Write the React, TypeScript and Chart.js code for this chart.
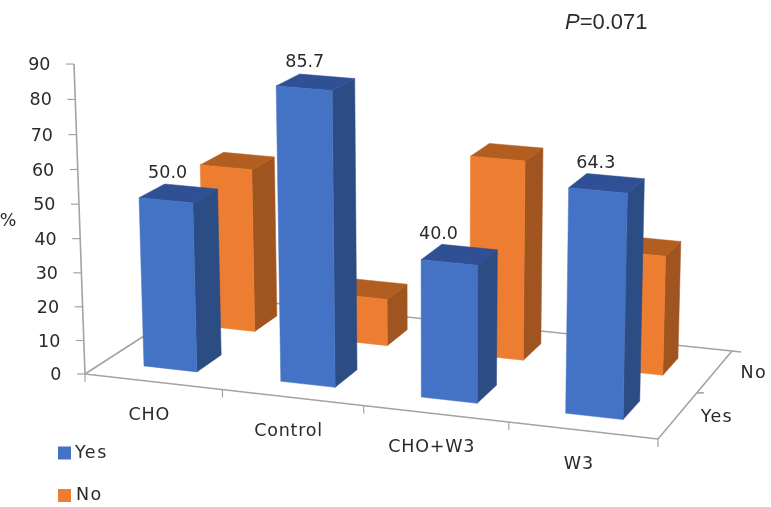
import React, { useEffect, useRef } from "react";
import { Chart, registerables } from "chart.js";

Chart.register(...registerables);

const categories = ["CHO", "Control", "CHO+W3", "W3"];
const yesValues = [50.0, 85.7, 40.0, 64.3];
const noValues = [50.0, 14.3, 60.0, 35.7];
const seriesNames = ["Yes", "No"];
const yesColors = { front: "#4472C4", side: "#2C4C84", top: "#2F5095" };
const noColors = { front: "#ED7D31", side: "#A0541F", top: "#B25E20" };

const FONT = "'DejaVu Sans', sans-serif";
const TEXT = "#2a2a2a";
const AXIS = "#a3a3a3";

// floor corners on screen: front-left, front-right, back-right, back-left
const FL = [85, 374], FR = [658, 439], BR = [732, 351], BL = [206, 296];
const VP = [435, 10240];
const TOP_T = -0.03046;

function makeProjection() {
  const dx1 = FR[0] - BR[0], dx2 = BL[0] - BR[0], sx = FL[0] - FR[0] + BR[0] - BL[0];
  const dy1 = FR[1] - BR[1], dy2 = BL[1] - BR[1], sy = FL[1] - FR[1] + BR[1] - BL[1];
  const d = dx1 * dy2 - dx2 * dy1;
  const g = (sx * dy2 - dx2 * sy) / d;
  const h = (dx1 * sy - sx * dy1) / d;
  const a = FR[0] - FL[0] + g * FR[0], b = BL[0] - FL[0] + h * BL[0], c = FL[0];
  const e = FR[1] - FL[1] + g * FR[1], f2 = BL[1] - FL[1] + h * BL[1], k = FL[1];
  return (u: number, w: number, f: number): [number, number] => {
    const t = TOP_T * f;
    const W = g * u + h * w + 1 + t;
    return [(a * u + b * w + c + t * VP[0]) / W, (e * u + f2 * w + k + t * VP[1]) / W];
  };
}
const project = makeProjection();

function poly(ctx: CanvasRenderingContext2D, pts: [number, number][], color: string) {
  ctx.beginPath();
  pts.forEach((p, i) => (i ? ctx.lineTo(p[0], p[1]) : ctx.moveTo(p[0], p[1])));
  ctx.closePath();
  ctx.fillStyle = color;
  ctx.fill();
  ctx.strokeStyle = color;
  ctx.lineWidth = 0.5;
  ctx.stroke();
}

function line(ctx: CanvasRenderingContext2D, a: number[], b: number[]) {
  ctx.beginPath();
  ctx.moveTo(a[0], a[1]);
  ctx.lineTo(b[0], b[1]);
  ctx.stroke();
}

function text(ctx: CanvasRenderingContext2D, s: string, x: number, y: number, align: CanvasTextAlign = "center", spacing = "0px") {
  ctx.fillStyle = TEXT;
  ctx.textAlign = align;
  ctx.textBaseline = "middle";
  (ctx as any).letterSpacing = spacing;
  ctx.fillText(s, x, y);
  (ctx as any).letterSpacing = "0px";
}

const DEPTH_HALF = 0.102;
const U_SHIFT = 0.0026;
const labelNudge = [0, 0, -10, 0];

const bars3d = {
  id: "bars3d",
  beforeDatasetsDraw(chart: any) {
    const ctx = chart.ctx;
    ctx.save();
    ctx.strokeStyle = AXIS;
    ctx.lineWidth = 1.6;
    const y = chart.scales.y, x = chart.scales.x;
    const area = chart.chartArea;
    line(ctx, project(0, 0, 0), project(0, 0, 1));
    line(ctx, FL, FR);
    line(ctx, FL, BL);
    line(ctx, BL, BR);
    line(ctx, FR, BR);
    line(ctx, BR, [BR[0] + 9, BR[1] + 1]);
    const mid = project(1, 0.5, 0);
    line(ctx, mid, [mid[0] + 7, mid[1]]);
    ctx.lineWidth = 1.2;
    line(ctx, FR, [FR[0], FR[1] + 8]);
    line(ctx, FL, [FL[0], FL[1] + 8]);
    categories.forEach((_, i) => {
      if (i === 0) return;
      const px = x.getPixelForValue(i) - (x.getPixelForValue(1) - x.getPixelForValue(0)) / 2;
      const p = project((px - area.left) / area.width, 0, 0);
      line(ctx, p, [p[0], p[1] + 8]);
    });
    ctx.font = `17.5px ${FONT}`;
    y.ticks.forEach((t: any) => {
      const f = (area.bottom - y.getPixelForValue(t.value)) / area.height;
      const p = project(0, 0, f);
      line(ctx, p, [p[0] - 8, p[1]]);
      text(ctx, String(t.value), p[0] - 23.5, p[1] + 1.5, "right");
    });
    ctx.restore();
  },
  beforeDatasetDraw(chart: any, args: any) {
    const ctx = chart.ctx;
    const area = chart.chartArea;
    const ds = chart.data.datasets[args.index];
    const wc = args.index === 0 ? 0.25 : 0.75;
    const w0 = wc - DEPTH_HALF, w1 = wc + DEPTH_HALF;
    ctx.save();
    args.meta.data.forEach((el: any) => {
      const { x, y, base, width } = el.getProps(["x", "y", "base", "width"], true);
      const u0 = (x - width / 2 - area.left) / area.width - U_SHIFT;
      const u1 = (x + width / 2 - area.left) / area.width - U_SHIFT;
      const f = (base - y) / area.height;
      poly(ctx, [project(u1, w0, 0), project(u1, w1, 0), project(u1, w1, f), project(u1, w0, f)], ds.sideColor);
      poly(ctx, [project(u0, w0, f), project(u1, w0, f), project(u1, w1, f), project(u0, w1, f)], ds.topColor);
      poly(ctx, [project(u0, w0, 0), project(u1, w0, 0), project(u1, w0, f), project(u0, w0, f)], ds.backgroundColor);
    });
    ctx.restore();
    return false;
  },
  afterDatasetsDraw(chart: any) {
    const ctx = chart.ctx;
    const area = chart.chartArea;
    const x = chart.scales.x;
    ctx.save();
    ctx.font = `17.5px ${FONT}`;
    // value labels of the front series
    const meta = chart.getDatasetMeta(0);
    meta.data.forEach((el: any, i: number) => {
      const p = el.getProps(["x", "y", "base"], true);
      const f = (p.base - p.y) / area.height;
      const top = project((p.x - area.left) / area.width - U_SHIFT, 0.25, f);
      text(ctx, chart.data.datasets[0].data[i].toFixed(1), top[0] - 11 + labelNudge[i], top[1] - 20);
    });
    // category labels
    categories.forEach((c, i) => {
      const u = (x.getPixelForValue(i) - area.left) / area.width;
      const p = project(u, 0, 0);
      text(ctx, c, p[0] - 4, p[1] + 34, "center", "0.8px");
    });
    // depth labels
    seriesNames.forEach((s, i) => {
      const p = project(1, i === 0 ? 0.25 : 0.75, 0);
      text(ctx, s, p[0] + 39, p[1] + 2, "center", "1.3px");
    });
    text(ctx, "%", 8, 221);
    // legend
    chart.data.datasets.forEach((d: any, i: number) => {
      const yPos = i === 0 ? 453 : 495.5;
      ctx.fillStyle = d.backgroundColor;
      ctx.fillRect(58, yPos - 6.5, 13, 13);
      text(ctx, d.label, i === 0 ? 75 : 76, yPos, "left", "1.5px");
    });
    // significance note
    ctx.font = `italic 22px 'Liberation Sans', sans-serif`;
    text(ctx, "P", 565, 23, "left");
    const pw = ctx.measureText("P").width;
    ctx.font = `22px 'Liberation Sans', sans-serif`;
    text(ctx, "=0.071", 565 + pw, 23, "left");
    ctx.restore();
  },
};

export default function App() {
  const ref = useRef<HTMLCanvasElement>(null);
  useEffect(() => {
    const chart = new Chart(ref.current!, {
      type: "bar",
      data: {
        labels: categories,
        datasets: [
          { label: seriesNames[0], data: yesValues, backgroundColor: yesColors.front, sideColor: yesColors.side, topColor: yesColors.top } as any,
          { label: seriesNames[1], data: noValues, backgroundColor: noColors.front, sideColor: noColors.side, topColor: noColors.top } as any,
        ],
      },
      options: {
        responsive: false,
        animation: false,
        layout: { padding: { left: 85, right: 113, top: 64, bottom: 133 } },
        datasets: { bar: { grouped: false, categoryPercentage: 1, barPercentage: 0.39 } },
        scales: {
          x: { display: false },
          y: { display: false, min: 0, max: 90, ticks: { stepSize: 10 } },
        },
        plugins: { legend: { display: false }, tooltip: { enabled: false } },
      } as any,
      plugins: [bars3d],
    });
    return () => chart.destroy();
  }, []);
  return (
    <div style={{ position: "absolute", left: 0, top: 0, width: 771, height: 507 }}>
      <canvas ref={ref} width={771} height={507} style={{ display: "block" }} />
    </div>
  );
}
